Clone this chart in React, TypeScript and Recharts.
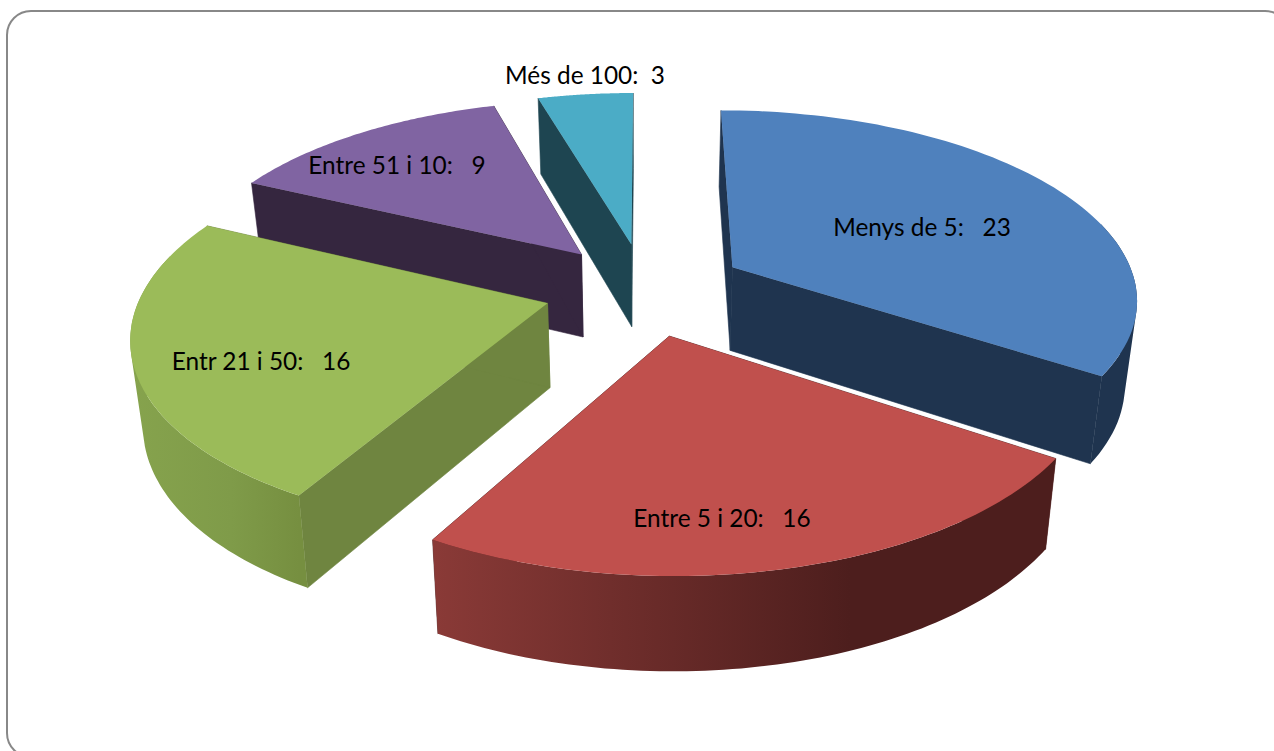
import * as React from "react";
import { Pie, PieChart } from "recharts";

// Values
const categories = ["Menys de 5", "Entre 5 i 20", "Entr 21 i 50", "Entre 51 i 10", "Més de 100"];
const values = [23, 16, 16, 9, 3];
const gaps = ["   ", "   ", "   ", "   ", "  "];

const rows = categories.map((name, i) => ({ name, value: values[i], gap: gaps[i] }));

// Slice styling, same order as categories
const TOP = ["#4f81bd", "#c0504d", "#9bbb59", "#8064a2", "#4bacc6"];
const CUT = ["#1f344f", "#4f1f1e", "#6f8540", "#35263f", "#1e4551"];
const WALL: [number, string][][] = [
  [[0, "#1f344f"], [1, "#1f344f"]],
  [[0, "#8a3a37"], [0.67, "#4d1e1d"], [1, "#4d1e1d"]],
  [[0, "#86a34d"], [0.6, "#7f9b49"], [1, "#768f40"]],
  [[0, "#35263f"], [1, "#35263f"]],
  [[0, "#1e4551"], [1, "#1e4551"]],
];
const LABEL_AT: [number, number][] = [[922, 226], [722, 517], [261, 360], [397, 164], [585, 74]];

// Painter's order: far slices first, near slices over them
const BACK = [3, 4];
const FRONT = [0, 2, 1];

// Fake 3D projection of the pie plane
const TILT = 0.462;
const CAMERA = 2650;
const DEPTH = 84;
const SHRINK = 0.025;
const EXPLODE = 101;
const STEPS = 80;
const RAD = Math.PI / 180;

function project(cx: number, cy: number, x: number, y: number, z: number) {
  const s = 1 / (1 - y / CAMERA);
  return [cx + x * s * (1 - z * SHRINK), cy + TILT * y * s + z * DEPTH * Math.pow(s, 0.6)];
}

function toPath(points: number[][]) {
  return "M" + points.map((p) => `${p[0].toFixed(1)},${p[1].toFixed(1)}`).join("L") + "Z";
}

// Same winding for every quad, so nonzero fill gives their union with no seams
function wound(q: number[][]) {
  let area = 0;
  q.forEach((p, i) => {
    const n = q[(i + 1) % q.length];
    area += p[0] * n[1] - n[0] * p[1];
  });
  return area < 0 ? [...q].reverse() : q;
}

function Slice3D(props: any) {
  const { cx, cy, outerRadius, startAngle, endAngle, midAngle, index } = props;
  const ox = EXPLODE * Math.cos(midAngle * RAD);
  const oy = -EXPLODE * Math.sin(midAngle * RAD);
  const angleAt = (i: number) => (startAngle + ((endAngle - startAngle) * i) / STEPS) * RAD;
  const arc = (z: number) => {
    const out: number[][] = [];
    for (let i = 0; i <= STEPS; i++) {
      const a = angleAt(i);
      out.push(project(cx, cy, ox + outerRadius * Math.cos(a), oy - outerRadius * Math.sin(a), z));
    }
    return out;
  };
  const top = arc(0);
  const bottom = arc(1);
  const apexTop = project(cx, cy, ox, oy, 0);
  const apexBottom = project(cx, cy, ox, oy, 1);
  const xs = top.map((p) => p[0]);
  const id = `wall-${index}`;
  // far side of the rim sits under the top face, leave it out
  let wallPath = "";
  for (let i = 0; i < STEPS; i++) {
    if (Math.sin(angleAt(i + 0.5)) > 0.25) continue;
    wallPath += toPath(wound([top[i], top[i + 1], bottom[i + 1], bottom[i]]));
  }
  return (
    <g>
      <defs>
        <linearGradient id={id} gradientUnits="userSpaceOnUse" x1={Math.min(...xs)} y1="0" x2={Math.max(...xs)} y2="0">
          {WALL[index].map(([offset, color]) => (
            <stop key={offset} offset={offset} stopColor={color} />
          ))}
        </linearGradient>
      </defs>
      <path d={toPath([apexTop, top[0], bottom[0], apexBottom])} fill={CUT[index]} stroke={CUT[index]} strokeWidth={0.6} />
      <path d={toPath([apexTop, top[STEPS], bottom[STEPS], apexBottom])} fill={CUT[index]} stroke={CUT[index]} strokeWidth={0.6} />
      {wallPath && <path d={wallPath} fill={`url(#${id})`} />}
      <path d={toPath([apexTop, ...top])} fill={TOP[index]} />
    </g>
  );
}

function sliceShape(allowed: number[]) {
  return (props: any) => (allowed.includes(props.index) ? <Slice3D {...props} /> : <g />);
}

function renderLabel(props: any) {
  const [x, y] = LABEL_AT[props.index];
  const row = rows[props.index];
  return (
    <text
      x={x}
      y={y}
      textAnchor="middle"
      dominantBaseline="central"
      fill="#000"
      fontFamily="Lato, 'Open Sans', sans-serif"
      fontSize={24.4}
      style={{ whiteSpace: "pre" }}
    >
      {`${row.name}:${row.gap}${row.value}`}
    </text>
  );
}

export default function App() {
  return (
    <div style={{ position: "absolute", left: 0, top: 0, width: 1274, height: 751, overflow: "hidden", background: "#fff" }}>
      <div
        style={{
          position: "absolute",
          left: 6,
          top: 10,
          width: 1284,
          height: 748,
          boxSizing: "border-box",
          border: "2.5px solid #888",
          borderRadius: 25,
        }}
      />
      <PieChart width={1274} height={751} margin={{ top: 0, right: 0, bottom: 0, left: 0 }} style={{ position: "absolute", left: 0, top: 0 }}>
        <Pie
          data={rows}
          dataKey="value"
          nameKey="name"
          cx={645}
          cy={289}
          outerRadius={405}
          startAngle={90}
          endAngle={-270}
          stroke="none"
          shape={sliceShape(BACK)}
          isAnimationActive={false}
        />
        <Pie
          data={rows}
          dataKey="value"
          nameKey="name"
          cx={645}
          cy={289}
          outerRadius={405}
          startAngle={90}
          endAngle={-270}
          stroke="none"
          shape={sliceShape(FRONT)}
          label={renderLabel}
          labelLine={false}
          isAnimationActive={false}
        />
      </PieChart>
    </div>
  );
}
